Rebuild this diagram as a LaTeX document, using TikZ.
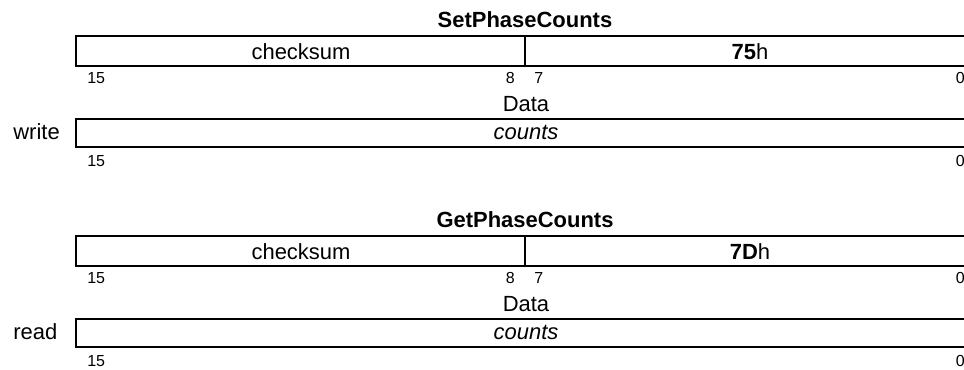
\documentclass[tikz,border=0pt]{standalone}
\usepackage{fontspec}
\setmainfont{Liberation Sans}
\begin{document}
\begin{tikzpicture}[x=0.02cm,y=-0.02cm,font=\fontsize{12.5}{15}\selectfont,
  bitno/.style={font=\fontsize{9.1}{11}\selectfont,inner sep=0pt},
  lbl/.style={inner sep=0pt,anchor=base}]
\clip (0,0) rectangle (964,369);
\foreach \k/\cmd/\op/\dir in {0/SetPhaseCounts/75/write,1/GetPhaseCounts/7D/read} {
\begin{scope}[shift={(0,\k*200)}]
\node[lbl,font=\fontsize{12.5}{15}\selectfont\bfseries] (title\k) at (525,27) {\cmd};
\draw[line width=1.1pt] (76,36) rectangle (975,66) (525,36) -- (525,66);
\node[lbl] (chk\k) at (301,59) {checksum}; \node[lbl] (code\k) at (750,59) {\textbf{\op}h};
\node[bitno,anchor=base west] (hiA\k) at (87,83) {15}; \node[bitno,anchor=base east] (b8\k) at (515,83) {8};
\node[bitno,anchor=base west] (b7\k) at (534,83) {7}; \node[bitno,anchor=base east] (loA\k) at (965,83) {0};
\node[lbl] (data\k) at (526,111) {Data};
\draw[line width=1.1pt] (76,119) rectangle (975,147);
\node[lbl] (cnt\k) at (526,139) {\itshape counts};
\node[lbl,anchor=base west] (dir\k) at (13,139) {\dir};
\node[bitno,anchor=base west] (hiB\k) at (87,166) {15}; \node[bitno,anchor=base east] (loB\k) at (965,166) {0};
\end{scope}
}
\end{tikzpicture}
\end{document}
